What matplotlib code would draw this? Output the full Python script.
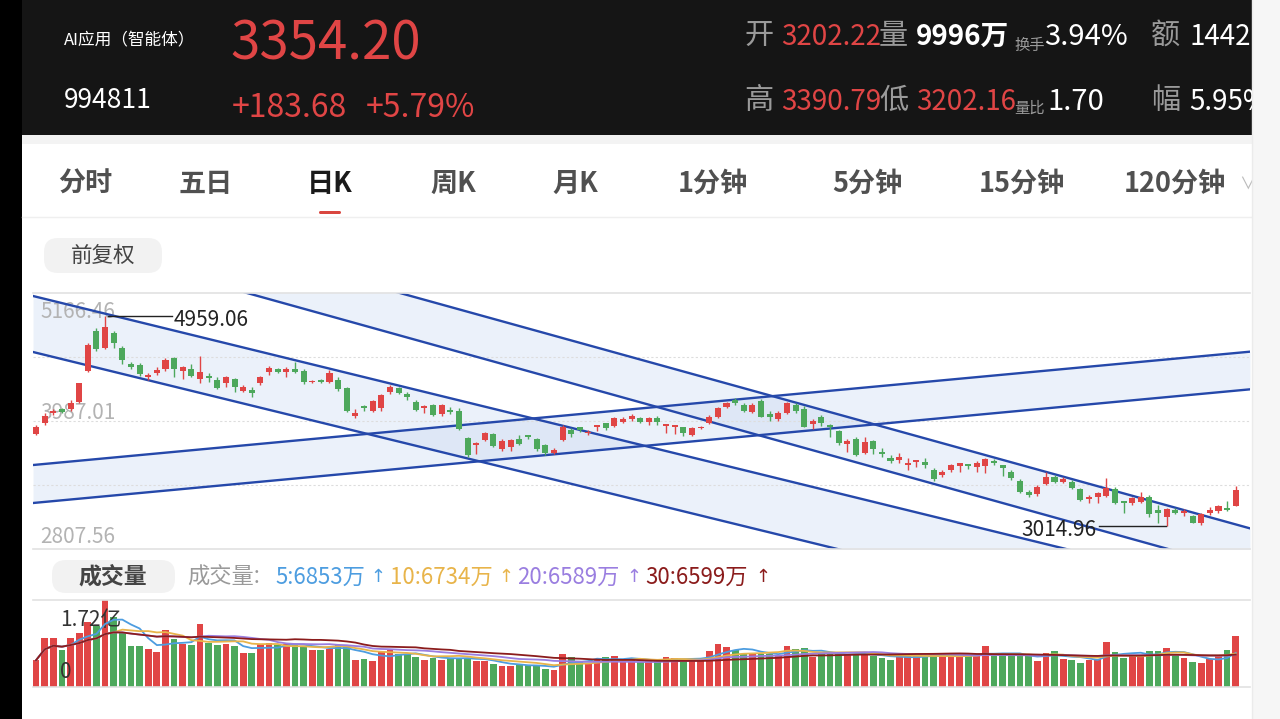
import numpy as np
import pandas as pd
import matplotlib
matplotlib.use('Agg')
import matplotlib.pyplot as plt
from matplotlib.patches import Rectangle, FancyBboxPatch

plt.rcParams['font.family'] = ['Noto Sans CJK SC', 'DejaVu Sans']

RED = '#e04545'
GREEN = '#4da85c'
LINE = '#2548aa'

# daily candles
opens = [3867, 3966, 4058, 4095, 4095, 4165, 4451, 4819, 4657, 4795,
         4657, 4512, 4503, 4389, 4432, 4463, 4565, 4451, 4463, 4371,
         4402, 4365, 4340, 4371, 4267, 4273, 4334, 4442, 4463, 4442,
         4463, 4451, 4343, 4365, 4350, 4365, 4294, 4033, 4125, 4082,
         4104, 4257, 4288, 4236, 4165, 4104, 4134, 4052, 4088, 4082,
         3827, 3766, 3812, 3867, 3726, 3751, 3818, 3855, 3818, 3766,
         3695, 3812, 3904, 3929, 3873, 3929, 3966, 3941, 3981, 4002,
         4012, 3981, 4012, 3941, 3935, 3929, 3858, 3920, 3966, 4027,
         4113, 4181, 4134, 4073, 4174, 4052, 4002, 4064, 4134, 4095,
         3959, 4027, 3950, 3898, 3775, 3818, 3689, 3806, 3705, 3643,
         3628, 3582, 3612, 3612, 3536, 3490, 3536, 3572, 3591, 3566,
         3572, 3622, 3582, 3520, 3437, 3336, 3315, 3407, 3468, 3428,
         3428, 3358, 3265, 3284, 3296, 3358, 3253, 3228, 3244, 3284,
         3167, 3106, 3167, 3142, 3112, 3044, 3136, 3161, 3183, 3202.22]
highs = [3950, 4058, 4095, 4104, 4181, 4340, 4703, 4841, 4959.06, 4819,
         4678, 4534, 4518, 4426, 4482, 4565, 4580, 4494, 4512, 4586,
         4426, 4396, 4402, 4380, 4319, 4303, 4402, 4494, 4472, 4488,
         4534, 4463, 4365, 4371, 4457, 4389, 4303, 4095, 4134, 4181,
         4236, 4319, 4303, 4257, 4181, 4134, 4144, 4144, 4113, 4104,
         3843, 3797, 3889, 3880, 3818, 3818, 3858, 3858, 3827, 3775,
         3735, 3950, 3920, 3935, 3904, 3950, 3972, 4021, 4021, 4052,
         4027, 4021, 4033, 3959, 3950, 3935, 3935, 3941, 4042, 4119,
         4165, 4196, 4150, 4150, 4187, 4082, 4082, 4165, 4150, 4125,
         4002, 4042, 3959, 3904, 3818, 3837, 3837, 3812, 3735, 3674,
         3689, 3643, 3628, 3643, 3551, 3536, 3591, 3603, 3591, 3622,
         3643, 3634, 3582, 3536, 3450, 3351, 3397, 3520, 3490, 3468,
         3443, 3367, 3305, 3336, 3459, 3382, 3253, 3290, 3336, 3305,
         3213, 3183, 3183, 3173, 3121, 3142, 3198, 3213, 3253, 3390.79]
lows = [3855, 3950, 4042, 4058, 4082, 4150, 4442, 4635, 4647, 4657,
        4512, 4463, 4402, 4365, 4411, 4451, 4396, 4371, 4396, 4334,
        4350, 4279, 4303, 4257, 4257, 4205, 4319, 4411, 4426, 4396,
        4432, 4328, 4334, 4340, 4340, 4267, 4073, 4012, 4082, 4073,
        4082, 4236, 4236, 4181, 4082, 4064, 4033, 4033, 4052, 3904,
        3659, 3683, 3806, 3744, 3714, 3714, 3766, 3818, 3714, 3674,
        3683, 3806, 3843, 3889, 3858, 3898, 3904, 3929, 3966, 3990,
        3966, 3950, 3950, 3880, 3867, 3849, 3849, 3910, 3959, 4012,
        4104, 4134, 4073, 4058, 4021, 3990, 3990, 4052, 4064, 3929,
        3910, 3941, 3837, 3766, 3705, 3665, 3683, 3683, 3659, 3597,
        3603, 3536, 3566, 3551, 3437, 3474, 3520, 3520, 3542, 3520,
        3505, 3582, 3480, 3443, 3327, 3284, 3296, 3397, 3413, 3413,
        3358, 3253, 3228, 3228, 3290, 3222, 3136, 3213, 3228, 3106,
        3050, 3014.96, 3130, 3112, 3044, 3029, 3121, 3142, 3155, 3202.16]
closes = [3935, 4033, 4082, 4070, 4150, 4334, 4687, 4647, 4856, 4703,
          4549, 4482, 4420, 4411, 4457, 4549, 4463, 4482, 4402, 4442,
          4380, 4288, 4396, 4303, 4303, 4248, 4389, 4472, 4439, 4469,
          4442, 4350, 4359, 4346, 4432, 4279, 4082, 4058, 4104, 4171,
          4227, 4297, 4248, 4205, 4088, 4125, 4042, 4134, 4073, 3910,
          3674, 3788, 3873, 3757, 3806, 3812, 3775, 3837, 3726, 3689,
          3720, 3929, 3867, 3904, 3889, 3950, 3920, 4012, 4002, 4033,
          3981, 4012, 3981, 3959, 3950, 3873, 3920, 3935, 4021, 4104,
          4156, 4156, 4082, 4134, 4027, 4021, 4064, 4156, 4082, 3935,
          3990, 3972, 3929, 3781, 3806, 3674, 3797, 3726, 3683, 3622,
          3652, 3597, 3628, 3582, 3450, 3520, 3582, 3597, 3572, 3597,
          3634, 3603, 3551, 3459, 3336, 3305, 3382, 3474, 3428, 3450,
          3367, 3259, 3290, 3321, 3367, 3228, 3228, 3275, 3290, 3130,
          3142, 3173, 3142, 3161, 3050, 3130, 3167, 3204, 3170.52, 3354.20]
# volume in 万
volumes = [5292, 9592, 9592, 7409, 9592, 10584, 12899, 12000, 17200, 13800,
           10716, 8070, 8070, 7607, 6945, 11245, 9393, 8467, 8269, 12370,
           8732, 8269, 8600, 8070, 6747, 6747, 8467, 8732, 8269, 8600,
           8269, 8070, 7277, 7277, 7607, 8269, 8070, 5292, 5623, 5160,
           6945, 7277, 6615, 6483, 5954, 5424, 5821, 5424, 5821, 5821,
           5623, 5160, 5160, 4498, 4101, 4101, 4498, 4300, 4300, 3638,
           3307, 6483, 5954, 5160, 4763, 5623, 5954, 6086, 5160, 5623,
           4961, 5160, 5160, 5954, 5821, 5424, 5424, 5424, 7144, 8600,
           7938, 7409, 6615, 6483, 6483, 6615, 6284, 8070, 7607, 7806,
           5954, 6483, 6615, 6483, 6483, 6483, 6615, 6086, 5821, 5424,
           6086, 6086, 6086, 6284, 6284, 6483, 6284, 5954, 6284, 6284,
           8070, 6284, 6284, 6284, 6284, 6086, 5160, 6747, 7144, 5623,
           5292, 4763, 5424, 5623, 8930, 6945, 5821, 6086, 6086, 7144,
           7144, 7806, 6615, 5821, 4961, 4763, 5623, 6086, 7277, 9996]

price_top = 5166.46
price_bottom = 2807.56
high_mark = 4959.06
low_mark = 3014.96
vol_top = 17200  # 1.72亿

# trend channels drawn in the app: price of each edge at candle 0 and candle 140
channels = [
    ((5132, 2405), (4616, 1889)),
    ((6095, 3012), (5707, 2612)),
    ((3584, 4621), (3234, 4274)),
]

ma_days = [5, 10, 20, 30]
ma_colors = ['#4d9de0', '#e8b44a', '#9a7ee0', '#8b1c1c']
ma_labels = ['5:6853万', '10:6734万', '20:6589万', '30:6599万']

tabs = ['分时', '五日', '日K', '周K', '月K', '1分钟', '5分钟', '15分钟', '120分钟']
tab_x = [85, 206, 330, 453, 575, 713, 867, 1022, 1175]

fig = plt.figure(figsize=(12.8, 7.19), dpi=100, facecolor='white')

# ---- page chrome, in pixel units
bg = fig.add_axes([0, 0, 1, 1])
bg.set_xlim(0, 1280)
bg.set_ylim(719, 0)
bg.axis('off')
bg.add_patch(Rectangle((22, 0), 1230, 135, color='#151515', lw=0))
bg.add_patch(Rectangle((0, 0), 22, 719, color='black', lw=0))
bg.add_patch(Rectangle((22, 135), 1230, 9, color='#f3f3f3', lw=0))
bg.plot([22, 1252], [217, 217], color='#efefef', lw=1)


def txt(x, y, s, size, color, **kw):
    bg.text(x, y, s, fontsize=size, color=color, va='center', **kw)


GRAY = '#9a9a9a'
txt(64, 40, 'AI应用（智能体）', 12, 'white')
txt(230, 44, '3354.20', 38, RED)
txt(64, 100, '994811', 19, 'white')
txt(232, 108, '+183.68', 23, RED)
txt(366, 108, '+5.79%', 23, RED)

txt(744, 36, '开', 21, GRAY)
txt(781, 37, '3202.22', 20, RED)
txt(879, 36, '量', 21, GRAY)
txt(916, 37, '9996万', 20, 'white', fontweight='bold')
txt(1014, 45, '换手', 11, GRAY)
txt(1044, 37, '3.94%', 21, 'white')
txt(1151, 36, '额', 21, GRAY)
txt(1189, 37, '1442', 20, 'white')

txt(744, 101, '高', 21, GRAY)
txt(781, 102, '3390.79', 20, RED)
txt(879, 101, '低', 21, GRAY)
txt(916, 102, '3202.16', 20, RED)
txt(1014, 108, '量比', 11, GRAY)
txt(1047, 102, '1.70', 21, 'white')
txt(1151, 101, '幅', 21, GRAY)
txt(1189, 102, '5.95%', 20, 'white')

for name, x in zip(tabs, tab_x):
    col = '#1a1a1a' if name == '日K' else '#505050'
    bg.text(x, 184, name, fontsize=19.5, color=col, fontweight='bold',
            ha='center', va='center')
bg.text(1247, 184, '∨', fontsize=12, color='#bbbbbb', ha='center', va='center')
bg.add_patch(FancyBboxPatch((319, 211), 22, 3, boxstyle='round,pad=0,rounding_size=1.5',
                            color='#d9463f', lw=0))

bg.add_patch(FancyBboxPatch((44, 238), 118, 35, boxstyle='round,pad=0,rounding_size=14',
                            color='#f2f2f2', lw=0))
bg.text(103, 256, '前复权', fontsize=15.5, color='#444444', ha='center', va='center')

bg.add_patch(FancyBboxPatch((52, 560), 123, 33, boxstyle='round,pad=0,rounding_size=14',
                            color='#f2f2f2', lw=0))
bg.text(113, 577, '成交量', fontsize=16.5, color='#444444', ha='center', va='center',
        fontweight='bold')
txt(187, 577, '成交量:', 16, GRAY)
label_x = [275, 390, 517, 645]
arrow_x = [378, 506, 634, 763]
for lab, lx, axx, col in zip(ma_labels, label_x, arrow_x, ma_colors):
    txt(lx, 577, lab, 16, col)
    bg.text(axx, 577, '↑', fontsize=13, color=col, ha='center', va='center',
            family='DejaVu Sans')

bg.add_patch(Rectangle((1252, 0), 28, 719, color='#f6f6f6', lw=0, zorder=5))
bg.plot([1252, 1252], [0, 719], color='#ebebeb', lw=1, zorder=6)

# ---- K-line chart
n = len(closes)
idx = np.arange(n)
o = np.array(opens)
c = np.array(closes)
up = c >= o
colors = np.where(up, RED, GREEN)

ax = fig.add_axes([33 / 1280, 1 - 549 / 719, 1217 / 1280, 256 / 719])
ax.set_facecolor('none')
x0, x1 = -0.35, 140.65
ax.set_xlim(x0, x1)
ax.set_ylim(price_bottom, price_top)

xs = np.array([x0, x1])
for (a0, a1), (b0, b1) in channels:
    ya = a0 + (a1 - a0) * xs / 140
    yb = b0 + (b1 - b0) * xs / 140
    ax.fill_between(xs, ya, yb, color='#c5d5f0', alpha=0.33, lw=0, zorder=1)
    ax.plot(xs, ya, color=LINE, lw=1.7, zorder=2)
    ax.plot(xs, yb, color=LINE, lw=1.7, zorder=2)

ax.vlines(idx, lows, highs, colors=colors, lw=1.0, zorder=3)
body = np.maximum(np.abs(c - o), 9)
ax.bar(idx, body, bottom=np.minimum(o, c), width=0.7, color=colors, zorder=4)

ax.set_yticks(np.linspace(price_bottom, price_top, 5)[1:-1])
ax.set_xticks([])
ax.tick_params(length=0, labelleft=False)
ax.grid(axis='y', color='#dddddd', ls=(0, (2, 2)), lw=0.8)
for s in ['left', 'right']:
    ax.spines[s].set_visible(False)
for s in ['top', 'bottom']:
    ax.spines[s].set_color('#e2e2e2')
    ax.spines[s].set_linewidth(1.2)

lab_kw = dict(transform=ax.transAxes, fontsize=15, color='#b3b3b3', zorder=1.5)
ax.text(0.006, 0.925, f'{price_top:.2f}', va='center', **lab_kw)
ax.text(0.006, 0.53, f'{(price_top + price_bottom) / 2:.2f}', va='center', **lab_kw)
ax.text(0.006, 0.047, f'{price_bottom:.2f}', va='center', **lab_kw)

hi_i = int(np.argmax(highs))
lo_i = int(np.argmin(lows))
ax.plot([hi_i + 0.3, hi_i + 7.7], [high_mark, high_mark], color='#222222', lw=1, zorder=5)
ax.text(hi_i + 8.0, high_mark - 45, f'{high_mark:.2f}', fontsize=15, color='#222222',
        va='center', ha='left', zorder=5)
ax.plot([lo_i - 0.1, lo_i - 7.8], [low_mark, low_mark], color='#222222', lw=1, zorder=5)
ax.text(lo_i - 8.1, low_mark - 35, f'{low_mark:.2f}', fontsize=15, color='#222222',
        va='center', ha='right', zorder=5)

# ---- volume chart
ax2 = fig.add_axes([33 / 1280, 1 - 687 / 719, 1217 / 1280, 87 / 719])
ax2.set_facecolor('none')
ax2.set_xlim(x0, x1)
ax2.set_ylim(0, vol_top)
ax2.bar(idx, volumes, width=0.78, color=colors, zorder=2)
vol = pd.Series(volumes, dtype=float)
for d, col in zip(ma_days, ma_colors):
    ax2.plot(idx, vol.rolling(d, min_periods=1).mean(), color=col, lw=1.3, zorder=3)
ax2.text(0.022, 0.77, f'{vol_top / 10000:.2f}亿', transform=ax2.transAxes, fontsize=15,
         color='#333333', va='center', zorder=2.5)
ax2.text(0.022, 0.17, '0', transform=ax2.transAxes, fontsize=15, color='#333333',
         va='center', zorder=2.5)
ax2.set_xticks([])
ax2.set_yticks([])
for s in ['left', 'right']:
    ax2.spines[s].set_visible(False)
for s in ['top', 'bottom']:
    ax2.spines[s].set_color('#e2e2e2')
    ax2.spines[s].set_linewidth(1.2)

fig.savefig('out.png', dpi=100)
